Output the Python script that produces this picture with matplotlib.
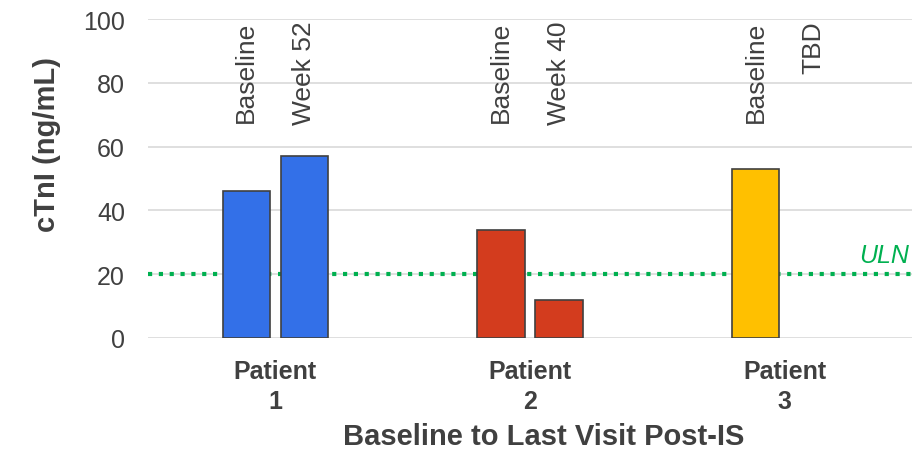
import matplotlib.pyplot as plt
import numpy as np

plt.rcParams['font.family'] = ['Liberation Sans', 'DejaVu Sans']

patients = ["Patient\n1", "Patient\n2", "Patient\n3"]
baseline = [46, 34, 53]
last_visit = [57, 12, 0]
last_labels = ["Week 52", "Week 40", "TBD"]
colors = ["#3370E8", "#D33C1E", "#FFC000"]
uln = 20

text_col = "#404040"

fig = plt.figure(figsize=(9.24, 4.52), dpi=100)
ax = fig.add_axes([148 / 924, 1 - 339 / 452, 764 / 924, 319 / 452])

x = np.arange(len(patients))
w = 0.185
off = 0.114

ax.axhline(uln, color="#00B050", linestyle=(0, (1, 1.6)), linewidth=3, zorder=1)

for i in range(len(patients)):
  ax.bar(x[i] - off, baseline[i], w, color=colors[i], edgecolor="#404040", linewidth=1.2, zorder=2)
  if last_visit[i] > 0:
    ax.bar(x[i] + off, last_visit[i], w, color=colors[i], edgecolor="#404040", linewidth=1.2, zorder=2)
  ax.text(x[i] - off, 99.5, "Baseline", rotation=90, ha="center", va="top", fontsize=19, color=text_col)
  ax.text(x[i] + off, 99.5, last_labels[i], rotation=90, ha="center", va="top", fontsize=19, color=text_col)

ax.text(2.49, uln + 2.3, "ULN", color="#00B050", style="italic", fontsize=18, ha="right", va="bottom")

ax.set_xlim(-0.5, 2.5)
ax.set_ylim(0, 100)
ax.set_yticks([0, 20, 40, 60, 80, 100])
ax.yaxis.grid(True, color="#D9D9D9", linewidth=1.2, zorder=0)
ax.set_axisbelow(True)
for s in ax.spines.values():
  s.set_visible(False)
ax.tick_params(axis="both", length=0, labelsize=18, colors=text_col)
ax.tick_params(axis="y", pad=16.5)
ax.tick_params(axis="x", pad=15)
ax.set_xticks(x)
ax.set_xticklabels(patients, fontweight="bold", fontsize=18, linespacing=1.3)

ax.set_ylabel("cTnI (ng/mL)", fontweight="bold", fontsize=21, color=text_col, labelpad=16)
ax.set_xlabel("Baseline to Last Visit Post-IS", fontweight="bold", fontsize=21, color=text_col, labelpad=7)
ax.yaxis.label.set_y(0.61)
ax.xaxis.label.set_x(0.518)

fig.savefig("out.png", dpi=100)
